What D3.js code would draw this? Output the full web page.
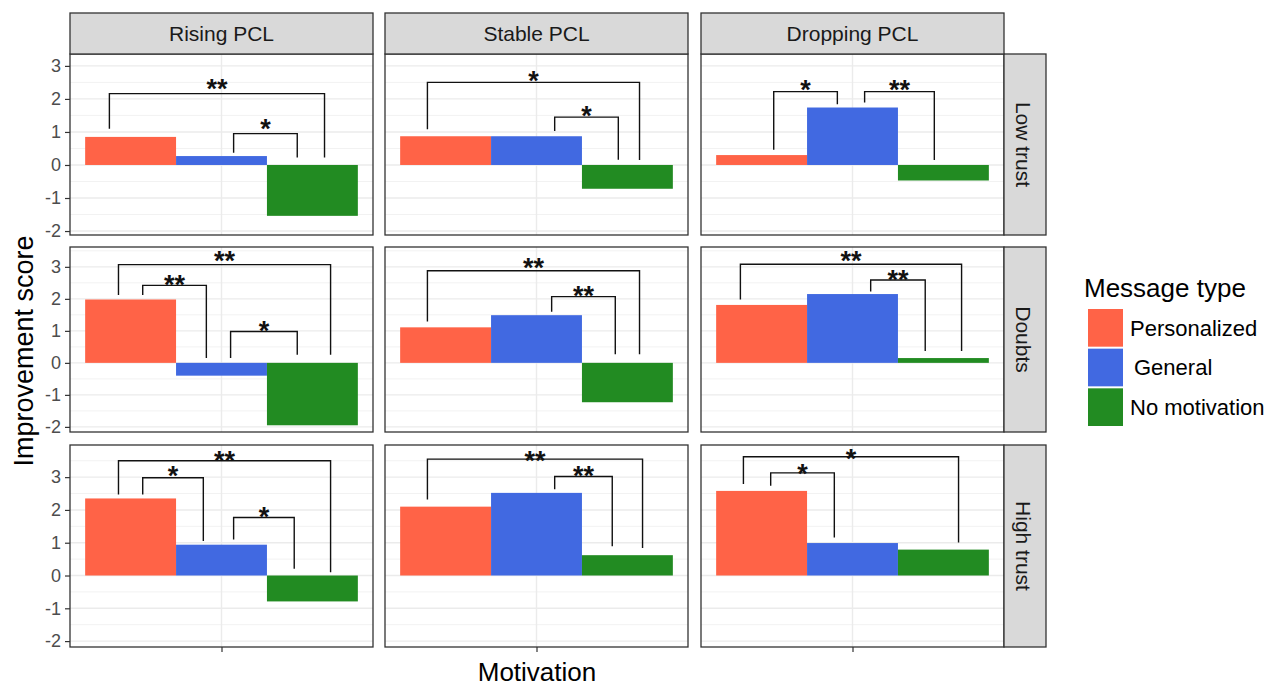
<!DOCTYPE html>
<html>
<head>
<meta charset="utf-8">
<script src="https://cdn.jsdelivr.net/npm/d3@7"></script>
<style>
  html, body { margin: 0; padding: 0; background: #fff; }
  text { font-family: "Liberation Sans", Arial, sans-serif; }
</style>
</head>
<body>
<svg id="chart" width="1283" height="689"></svg>
<script>
// ---------- data ----------
const columns = ["Rising PCL", "Stable PCL", "Dropping PCL"];
const rows = ["Low trust", "Doubts", "High trust"];
const messageTypes = ["Personalized", "General", "No motivation"];
const colors = ["#FF6347", "#4169E1", "#228B22"];
const yTicks = [-2, -1, 0, 1, 2, 3];
const yTickLabels = ["-2", "-1", "0", "1", "2", "3"];

// values per row (Low trust, Doubts, High trust), each: [Rising, Stable, Dropping]
const personalized = [[0.85, 0.87, 0.30], [1.98, 1.11, 1.81], [2.35, 2.10, 2.58]];
const general      = [[0.27, 0.87, 1.74], [-0.40, 1.49, 2.15], [0.94, 2.52, 0.99]];
const noMotivation = [[-1.54, -0.72, -0.47], [-1.95, -1.23, 0.15], [-0.79, 0.62, 0.79]];

// significance brackets: [row, col, xmin, xmax, yTop, yLeftEnd, yRightEnd, labelY, label]
const brackets = [
  [0, 0, 0.63, 1.34, 2.16, 1.10, 0.23, 2.49, "**"],
  [0, 0, 1.04, 1.25, 0.95, 0.37, 0.23, 1.27, "*"],
  [0, 1, 0.64, 1.34, 2.50, 1.08, 0.15, 2.74, "*"],
  [0, 1, 1.06, 1.27, 1.45, 1.03, 0.16, 1.69, "*"],
  [0, 2, 0.74, 0.95, 2.22, 0.46, 1.84, 2.46, "*"],
  [0, 2, 1.04, 1.27, 2.22, 1.89, 0.15, 2.46, "**"],
  [1, 0, 0.66, 1.36, 3.07, 2.12, 0.25, 3.37, "**"],
  [1, 0, 0.74, 0.95, 2.42, 2.12, 0.15, 2.62, "**"],
  [1, 0, 1.03, 1.25, 0.98, 0.15, 0.25, 1.19, "*"],
  [1, 1, 0.64, 1.34, 2.88, 1.29, 0.27, 3.15, "**"],
  [1, 1, 1.05, 1.26, 2.07, 1.60, 0.27, 2.29, "**"],
  [1, 2, 0.63, 1.36, 3.08, 1.98, 0.37, 3.37, "**"],
  [1, 2, 1.06, 1.24, 2.59, 2.23, 0.37, 2.80, "**"],
  [2, 0, 0.66, 1.36, 3.50, 2.47, 0.10, 3.70, "**"],
  [2, 0, 0.74, 0.94, 2.98, 2.47, 1.05, 3.24, "*"],
  [2, 0, 1.04, 1.24, 1.77, 1.10, 0.21, 1.99, "*"],
  [2, 1, 0.64, 1.35, 3.55, 2.32, 0.84, 3.68, "**"],
  [2, 1, 1.06, 1.25, 3.02, 2.63, 0.89, 3.24, "**"],
  [2, 2, 0.64, 1.35, 3.62, 2.79, 1.01, 3.75, "*"],
  [2, 2, 0.73, 0.94, 3.13, 2.74, 1.16, 3.30, "*"]
];

// ---------- layout ----------
const svg = d3.select("#chart");
svg.append("rect").attr("width", 1283).attr("height", 689).attr("fill", "#fff");

const colX = [[70, 373], [385, 688], [701, 1004]];
const rowY = [[54, 235], [247, 432], [445, 647]];
const rowDomain = [[-2.12, 3.36], [-2.16, 3.62], [-2.18, 3.98]];
const stripTop = [13, 54];
const stripRight = [1004, 1046];
const border = "#333333";
const starSize = 27;

const seriesVals = [personalized, general, noMotivation];
const barOffsets = [0.55, 0.85, 1.15]; // dodge positions (width 0.3 each)

rows.forEach((rowName, ri) => {
  const y = d3.scaleLinear().domain(rowDomain[ri]).range([rowY[ri][1], rowY[ri][0]]);
  columns.forEach((colName, ci) => {
    const x = d3.scaleLinear().domain([0.5, 1.5]).range(colX[ci]);
    const g = svg.append("g");
    const [x0, x1] = colX[ci];
    const [yTop, yBot] = rowY[ri];

    // minor grid
    const minor = d3.range(Math.ceil(rowDomain[ri][0] * 2) / 2, rowDomain[ri][1], 0.5)
      .filter(v => Math.abs(v - Math.round(v)) > 0.01);
    g.selectAll(".minor").data(minor).enter().append("line")
      .attr("x1", x0).attr("x2", x1)
      .attr("y1", d => y(d)).attr("y2", d => y(d))
      .attr("stroke", "#F2F2F2").attr("stroke-width", 1);
    // major grid
    const major = d3.range(Math.ceil(rowDomain[ri][0]), rowDomain[ri][1], 1);
    g.selectAll(".major").data(major).enter().append("line")
      .attr("x1", x0).attr("x2", x1)
      .attr("y1", d => y(d)).attr("y2", d => y(d))
      .attr("stroke", "#EBEBEB").attr("stroke-width", 1.4);
    g.append("line")
      .attr("x1", x(1)).attr("x2", x(1)).attr("y1", yTop).attr("y2", yBot)
      .attr("stroke", "#EBEBEB").attr("stroke-width", 1.4);

    // bars
    seriesVals.forEach((vals, si) => {
      const v = vals[ri][ci];
      g.append("rect")
        .attr("x", x(barOffsets[si]))
        .attr("width", x(barOffsets[si] + 0.3) - x(barOffsets[si]))
        .attr("y", y(Math.max(0, v)))
        .attr("height", Math.abs(y(v) - y(0)))
        .attr("fill", colors[si]);
    });

    // brackets
    brackets.filter(b => b[0] === ri && b[1] === ci).forEach(b => {
      const [, , xa, xb, top, le, re, ly, lab] = b;
      g.append("path")
        .attr("d", `M${x(xa)},${y(le)}V${y(top)}H${x(xb)}V${y(re)}`)
        .attr("fill", "none").attr("stroke", "#111").attr("stroke-width", 1.4);
      g.append("text")
        .attr("x", (x(xa) + x(xb)) / 2)
        .attr("y", y(ly) + 0.57 * starSize)
        .attr("text-anchor", "middle")
        .attr("font-size", starSize).attr("font-weight", "bold")
        .attr("fill", "#111")
        .text(lab);
    });

    // panel border
    g.append("rect").attr("x", x0).attr("y", yTop).attr("width", x1 - x0).attr("height", yBot - yTop)
      .attr("fill", "none").attr("stroke", border).attr("stroke-width", 1.3);

    // y axis on first column
    if (ci === 0) {
      const ax = svg.append("g").attr("transform", `translate(${x0},0)`)
        .call(d3.axisLeft(y).tickValues(yTicks).tickSize(5).tickPadding(4)
          .tickFormat((d, i) => yTickLabels[i]));
      ax.select(".domain").remove();
      ax.selectAll(".tick line").attr("stroke", border).attr("stroke-width", 1.2);
      ax.selectAll(".tick text").attr("fill", "#4D4D4D").attr("font-size", 18)
        .attr("font-family", "'Liberation Sans', Arial, sans-serif");
    }
    // x axis on last row
    if (ri === rows.length - 1) {
      const ax = svg.append("g").attr("transform", `translate(0,${yBot})`)
        .call(d3.axisBottom(x).tickValues([1]).tickSize(5).tickFormat(""));
      ax.select(".domain").remove();
      ax.selectAll(".tick line").attr("stroke", border).attr("stroke-width", 1.2);
    }
  });

  // right strip
  svg.append("rect").attr("x", stripRight[0]).attr("y", rowY[ri][0])
    .attr("width", stripRight[1] - stripRight[0]).attr("height", rowY[ri][1] - rowY[ri][0])
    .attr("fill", "#D9D9D9").attr("stroke", border).attr("stroke-width", 1.3);
  const cx = (stripRight[0] + stripRight[1]) / 2 - 2, cy = (rowY[ri][0] + rowY[ri][1]) / 2;
  svg.append("text")
    .attr("transform", `translate(${cx},${cy}) rotate(90)`)
    .attr("text-anchor", "middle").attr("dy", "0.35em")
    .attr("font-size", 21).attr("fill", "#1A1A1A")
    .text(rowName);
});

// top strips
columns.forEach((colName, ci) => {
  svg.append("rect").attr("x", colX[ci][0]).attr("y", stripTop[0])
    .attr("width", colX[ci][1] - colX[ci][0]).attr("height", stripTop[1] - stripTop[0])
    .attr("fill", "#D9D9D9").attr("stroke", border).attr("stroke-width", 1.3);
  svg.append("text")
    .attr("x", (colX[ci][0] + colX[ci][1]) / 2).attr("y", (stripTop[0] + stripTop[1]) / 2)
    .attr("dy", "0.35em").attr("text-anchor", "middle")
    .attr("font-size", 21).attr("fill", "#1A1A1A")
    .text(colName);
});

// axis titles
svg.append("text")
  .attr("transform", `translate(33,351) rotate(-90)`)
  .attr("text-anchor", "middle").attr("font-size", 27).attr("fill", "#000")
  .text("Improvement score");
svg.append("text")
  .attr("x", 537).attr("y", 681)
  .attr("text-anchor", "middle").attr("font-size", 26).attr("fill", "#000")
  .text("Motivation");

// legend
const lg = svg.append("g");
lg.append("text").attr("x", 1084).attr("y", 297).attr("font-size", 26).attr("fill", "#000")
  .text("Message type");
const legY = d3.scaleBand().domain(messageTypes).range([309, 426]).paddingInner(0.05);
messageTypes.forEach((m, i) => {
  lg.append("rect").attr("x", 1088).attr("y", legY(m))
    .attr("width", 35).attr("height", legY.bandwidth())
    .attr("fill", colors[i]);
  lg.append("text").attr("x", i === 1 ? 1134 : 1130).attr("y", legY(m) + legY.bandwidth() / 2)
    .attr("dy", "0.35em").attr("font-size", 22).attr("fill", "#000")
    .text(m);
});
</script>
</body>
</html>
